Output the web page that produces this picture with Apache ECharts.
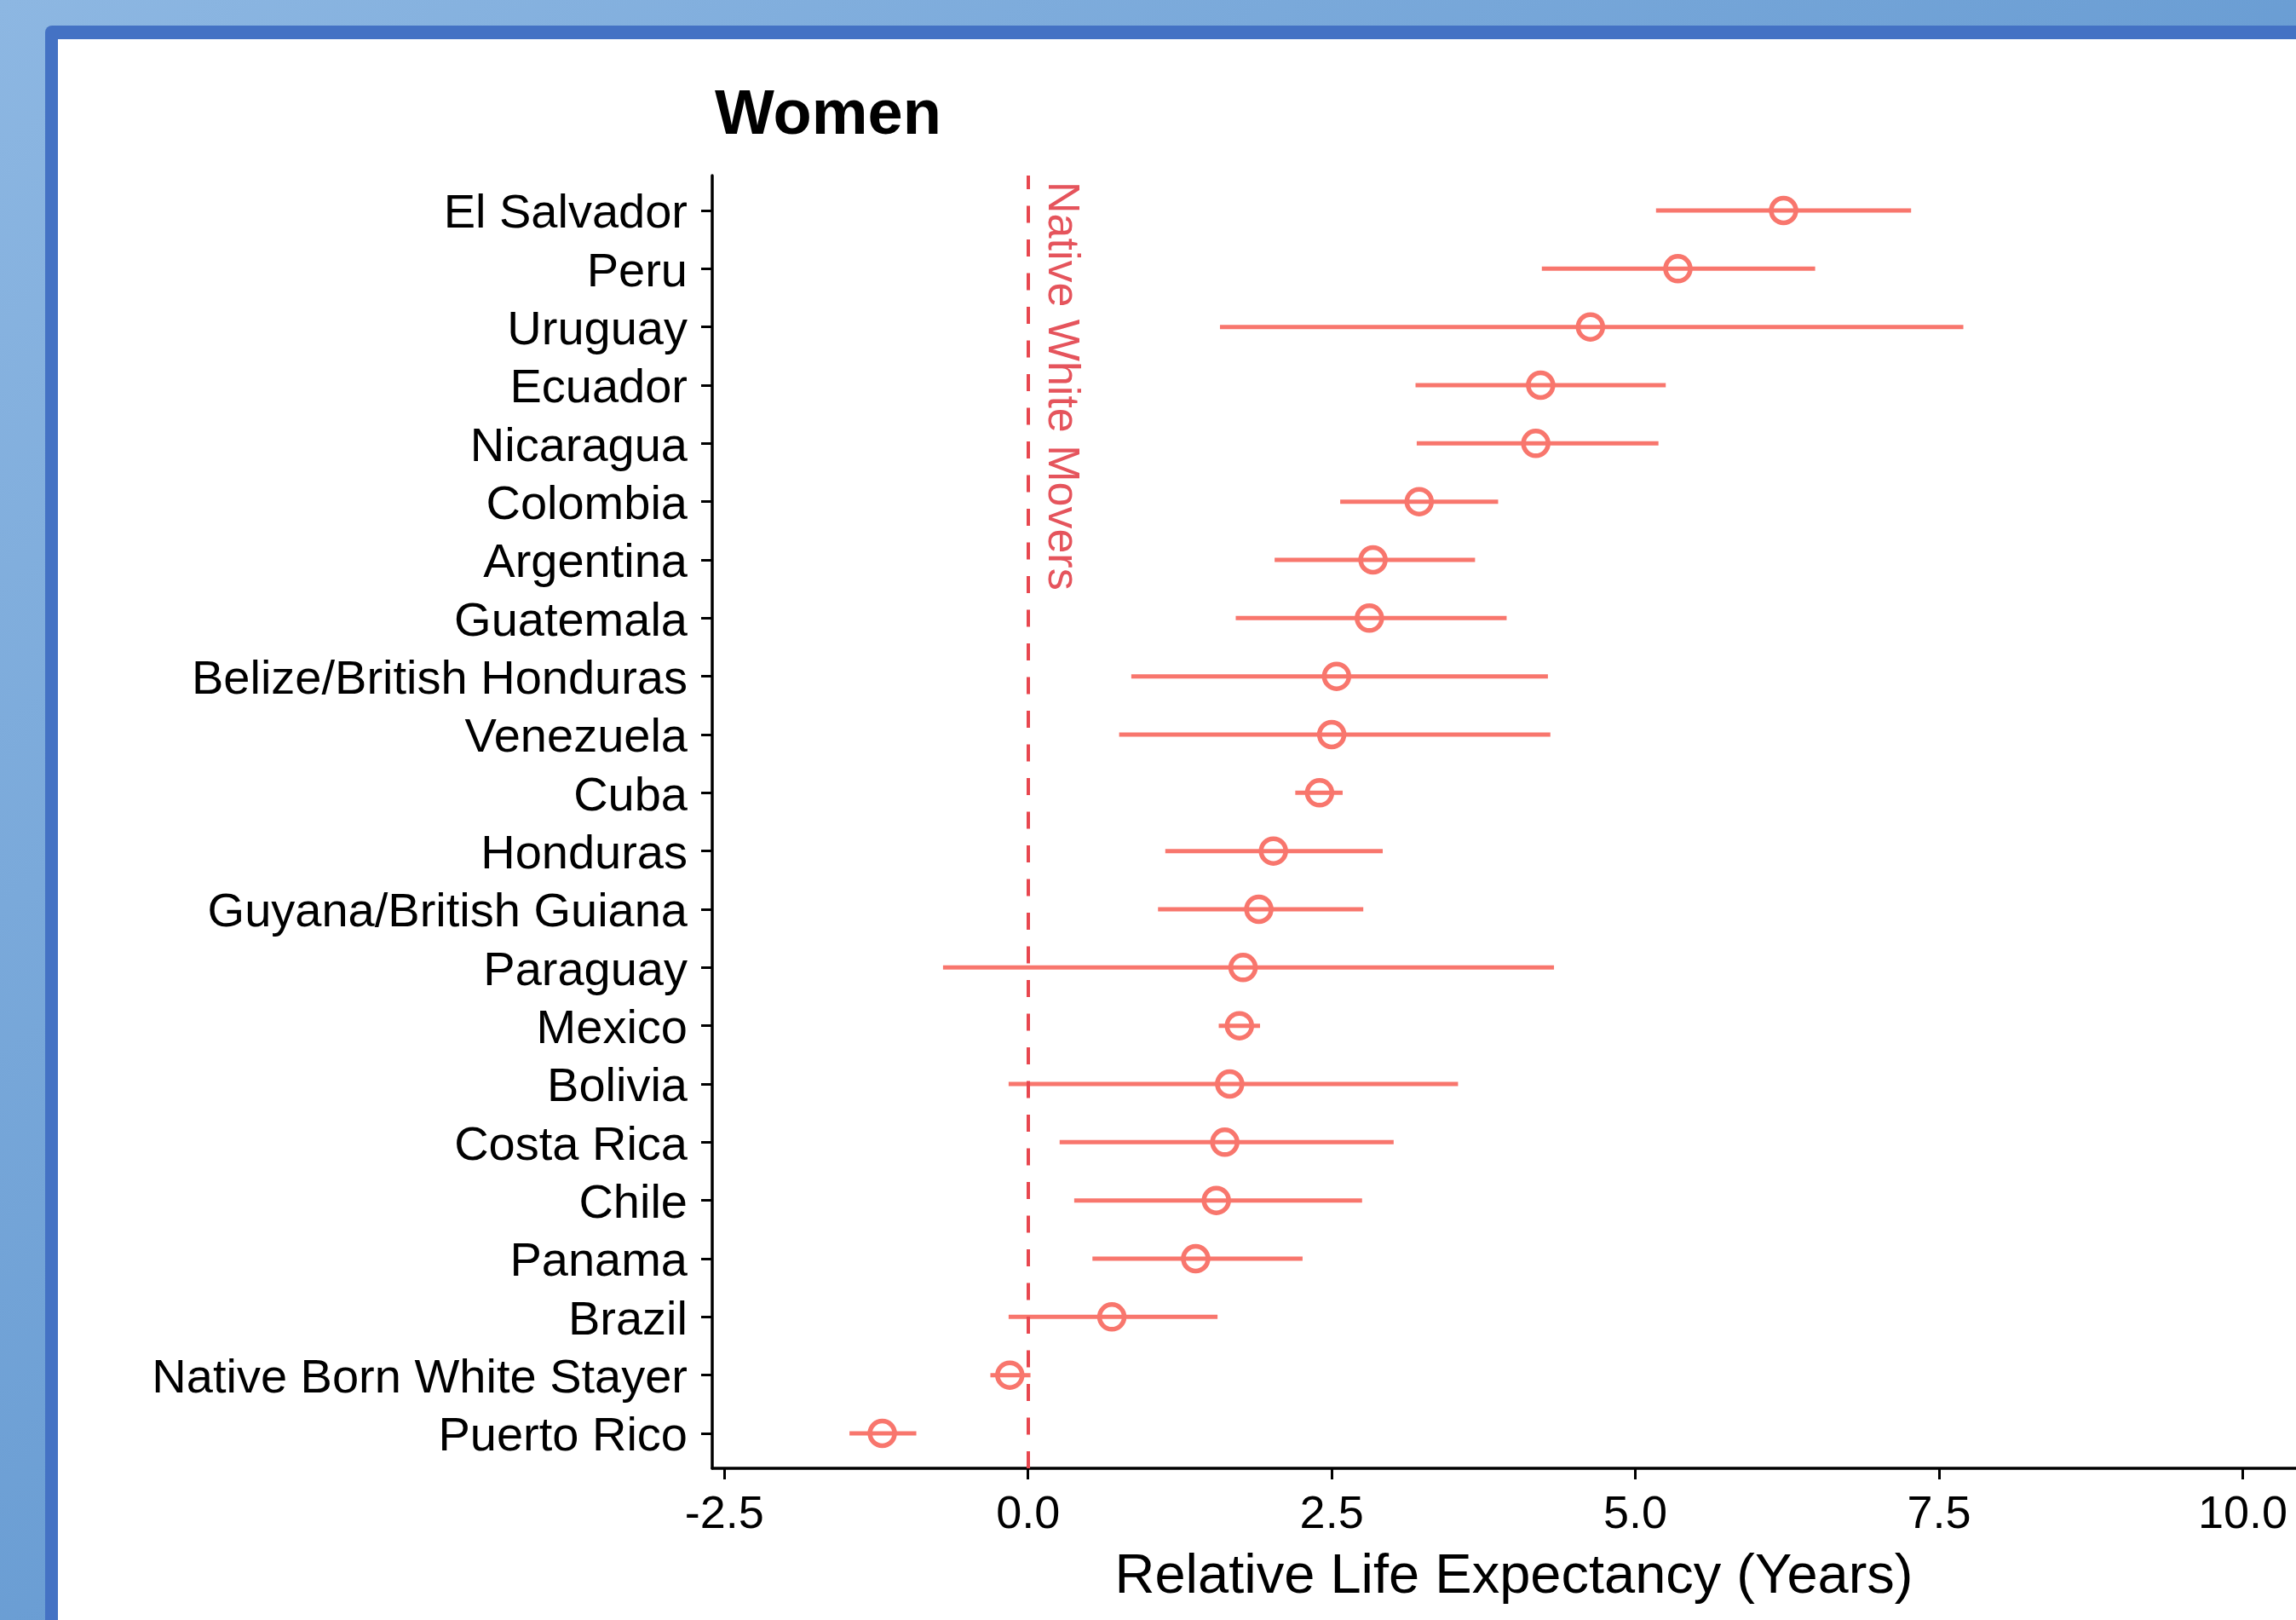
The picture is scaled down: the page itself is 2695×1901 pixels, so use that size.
<!DOCTYPE html>
<html>
<head>
<meta charset="utf-8">
<script src="https://cdn.jsdelivr.net/npm/echarts@6/dist/echarts.min.js"></script>
<style>
  html, body { margin: 0; padding: 0; background: #ffffff; }
  #chart { width: 2695px; height: 1901px; }
</style>
</head>
<body>
<div id="chart"></div>
<script>
// Origin groups, listed from the top row of the plot to the bottom row
const countries = [
  'El Salvador', 'Peru', 'Uruguay', 'Ecuador', 'Nicaragua', 'Colombia',
  'Argentina', 'Guatemala', 'Belize/British Honduras', 'Venezuela', 'Cuba',
  'Honduras', 'Guyana/British Guiana', 'Paraguay', 'Mexico', 'Bolivia',
  'Costa Rica', 'Chile', 'Panama', 'Brazil', 'Native Born White Stayer',
  'Puerto Rico'
];
// Relative life expectancy (years) vs. native white movers
const estimates = [
  6.22, 5.35, 4.63, 4.22, 4.18, 3.22, 2.84, 2.81, 2.54, 2.50, 2.40,
  2.02, 1.90, 1.77, 1.74, 1.66, 1.62, 1.55, 1.38, 0.69, -0.15, -1.20
];
// 95% interval bounds
const lower = [
  5.17, 4.23, 1.58, 3.19, 3.20, 2.57, 2.03, 1.71, 0.85, 0.75, 2.20,
  1.13, 1.07, -0.70, 1.57, -0.16, 0.26, 0.38, 0.53, -0.16, -0.31, -1.47
];
const upper = [
  7.27, 6.48, 7.70, 5.25, 5.19, 3.87, 3.68, 3.94, 4.28, 4.30, 2.59,
  2.92, 2.76, 4.33, 1.91, 3.54, 3.01, 2.75, 2.26, 1.56, 0.02, -0.92
];
const xTicks = [-2.5, 0, 2.5, 5, 7.5, 10];
const referenceValue = 0;
const referenceLabel = 'Native White Movers';

const n = countries.length;
// row position on the vertical axis: first entry at the top
const rowPos = countries.map((_, i) => n - i);
const rowTicks = rowPos.slice().reverse();

const FONT = '"Liberation Sans", Arial, Helvetica, sans-serif';
const POINT_COLOR = '#F8766D';
const REF_COLOR = '#E8474F';

const chart = echarts.init(document.getElementById('chart'), null, { renderer: 'canvas' });

// slide backdrop: blue page, frame and white body
const backdrop = [
  {
    id: 'page', type: 'rect', z: -20, silent: true,
    shape: { x: 0, y: 0, width: 2695, height: 1901 },
    style: {
      fill: new echarts.graphic.LinearGradient(0, 0, 1901, 2695, [
        { offset: 0, color: '#8db7e2' },
        { offset: 1, color: '#4582c4' }
      ], true)
    }
  },
  {
    id: 'frame', type: 'rect', z: -19, silent: true,
    shape: { x: 53, y: 30, width: 2700, height: 1900, r: 8 },
    style: { fill: '#4472C4' }
  },
  {
    id: 'body', type: 'rect', z: -18, silent: true,
    shape: { x: 68, y: 46, width: 2700, height: 1900 },
    style: { fill: '#ffffff' }
  }
];

const option = {
  animation: false,
  backgroundColor: '#ffffff',
  title: {
    text: 'Women',
    left: 839,
    top: 100,
    padding: 0,
    textStyle: { fontFamily: FONT, fontSize: 74, fontWeight: 'bold', color: '#000000' }
  },
  grid: {
    left: 836, right: -23, top: 206, bottom: 178,
    containLabel: false,
    outerBoundsMode: 'none'
  },
  xAxis: {
    type: 'value',
    min: -2.6,
    max: 10.6,
    name: 'Relative Life Expectancy (Years)',
    nameLocation: 'middle',
    nameGap: 96,
    nameTextStyle: { fontFamily: FONT, fontSize: 65, color: '#000000' },
    axisLine: { show: true, onZero: false, lineStyle: { color: '#000000', width: 3.5 } },
    axisTick: { show: true, length: 13, customValues: xTicks, lineStyle: { color: '#000000', width: 3 } },
    axisLabel: {
      show: true, margin: 28, customValues: xTicks,
      fontFamily: FONT, fontSize: 54, color: '#000000',
      formatter: v => Number(v).toFixed(1)
    },
    splitLine: { show: false }
  },
  yAxis: {
    type: 'value',
    min: 0.4,
    max: n + 0.6,
    axisLine: { show: true, onZero: false, lineStyle: { color: '#000000', width: 3.5 } },
    axisTick: { show: true, length: 13, customValues: rowTicks, lineStyle: { color: '#000000', width: 3 } },
    axisLabel: {
      show: true, margin: 29, customValues: rowTicks,
      fontFamily: FONT, fontSize: 56, color: '#000000',
      verticalAlign: 'top',
      lineHeight: 10,
      formatter: v => countries[n - Math.round(v)] || ''
    },
    splitLine: { show: false }
  },
  graphic: backdrop,
  series: [
    {
      name: 'interval',
      type: 'custom',
      z: 2,
      encode: { x: [0, 1], y: 2 },
      data: countries.map((_, i) => [lower[i], upper[i], rowPos[i]]),
      renderItem: (params, api) => {
        const a = api.coord([api.value(0), api.value(2)]);
        const b = api.coord([api.value(1), api.value(2)]);
        return {
          type: 'line',
          shape: { x1: a[0], y1: a[1], x2: b[0], y2: b[1] },
          style: { stroke: POINT_COLOR, lineWidth: 5, lineCap: 'butt' }
        };
      }
    },
    {
      name: 'estimate',
      type: 'scatter',
      z: 3,
      symbol: 'circle',
      symbolSize: 29,
      itemStyle: { color: 'rgba(0,0,0,0)', borderColor: POINT_COLOR, borderWidth: 5.5, opacity: 1 },
      data: countries.map((_, i) => [estimates[i], rowPos[i]]),
      markLine: {
        silent: true,
        z: 4,
        symbol: ['none', 'none'],
        label: { show: false },
        lineStyle: { color: REF_COLOR, width: 4, type: [20, 19.5] },
        data: [{ xAxis: referenceValue }]
      }
    }
  ]
};

chart.setOption(option);

// label for the reference line, placed beside it and running downward
const refTop = chart.convertToPixel({ gridIndex: 0 }, [referenceValue, n + 0.6]);
chart.setOption({
  graphic: backdrop.concat([
    {
      id: 'refLabel',
      type: 'text',
      z: 10,
      silent: true,
      x: refTop[0] + 39,
      y: refTop[1] + 7,
      rotation: -Math.PI / 2,
      style: {
        text: referenceLabel,
        fontFamily: FONT,
        fontSize: 52,
        fill: '#E5545C',
        align: 'left',
        verticalAlign: 'middle'
      }
    }
  ])
});
</script>
</body>
</html>
